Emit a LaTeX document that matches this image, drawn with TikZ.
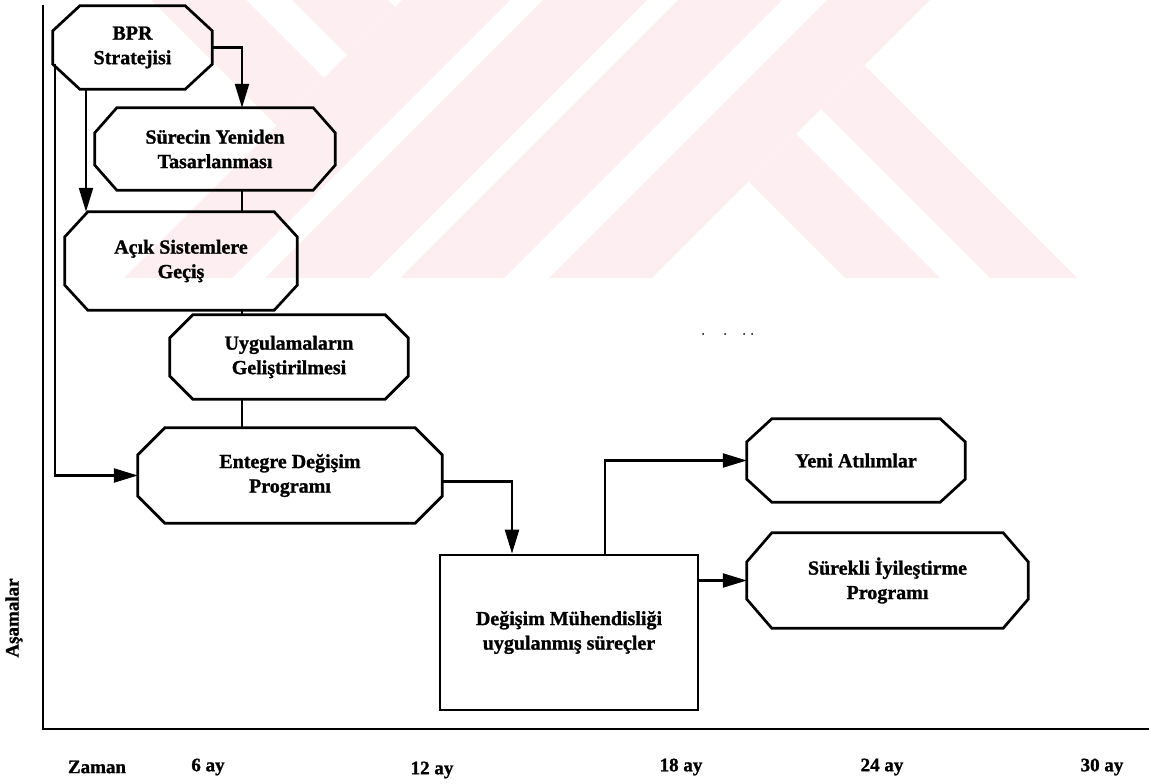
\documentclass[tikz,border=0pt]{standalone}
\usepackage{fontspec}
\setmainfont{Liberation Serif}[BoldFeatures={FakeBold=1.2}]
\usetikzlibrary{arrows.meta,calc}
\definecolor{wmpink}{RGB}{253,238,241}

\begin{document}
\begin{tikzpicture}[x=1pt,y=-1pt,
  lbl/.style={font=\bfseries\fontsize{20}{24.5}\selectfont, align=center},
  box/.style={lbl, rectangle, inner sep=0pt},
  outline/.style={line width=2.7pt, line join=miter},
  link/.style={line width=2.2pt},
  arrow/.style={link, -{Triangle[length=24pt,width=14pt]}},
  axisline/.style={line width=2.2pt},
  axislabel/.style={font=\bfseries\fontsize{19}{22}\selectfont}
]
\useasboundingbox (0,0) rectangle (1149,784);

% faint background emblem: slanted bands with forked ends
\begin{scope}
  \clip (0,0) rectangle (1149,278);
  % forked arms on the left band
  \fill[wmpink] (151,0) -- (246,0) -- (324,78) -- (276.5,125.5) -- cycle;
  \fill[wmpink] (292,0) -- (388,0) -- (395,7) -- (347,55) -- cycle;
  % parallel bands
  \fill[wmpink] (402,0) -- (510,0) -- (232,278) -- (124,278) -- cycle;
  \fill[wmpink] (543,0) -- (647,0) -- (369,278) -- (265,278) -- cycle;
  \fill[wmpink] (678,0) -- (782,0) -- (504,278) -- (400,278) -- cycle;
  \fill[wmpink] (827,0) -- (930,0) -- (652,278) -- (549,278) -- cycle;
  % forked arms on the right band
  \fill[wmpink] (748.5,181.5) -- (796,134) -- (940,278) -- (845,278) -- cycle;
  \fill[wmpink] (821,109) -- (864.5,65.5) -- (1077,278) -- (990,278) -- cycle;
\end{scope}

% stage boxes
\node[box, minimum width=159pt, minimum height=83pt] (bpr)  at (132.5,47.5) {BPR\\Stratejisi};
\node[box, minimum width=240pt, minimum height=82pt] (sur)  at (215,149)    {Sürecin Yeniden\\Tasarlanması};
\node[box, minimum width=232pt, minimum height=98pt] (acik) at (181,261)    {Açık Sistemlere\\Geçiş};
\node[box, minimum width=238pt, minimum height=84pt] (uyg)  at (289,357)    {Uygulamaların\\Geliştirilmesi};
\node[box, minimum width=304pt, minimum height=95pt] (ent)  at (290,475.5)  {Entegre Değişim\\Programı};
\node[box, minimum width=218pt, minimum height=83pt] (yeni) at (856,460.5)  {Yeni Atılımlar};
\node[box, minimum width=281pt, minimum height=95pt] (sure) at (887.5,580.5) {Sürekli İyileştirme\\Programı};
\node[box, draw, line width=2.7pt, minimum width=258pt, minimum height=155pt] (deg) at (569,632.5)
  {Değişim Mühendisliği\\uygulanmış süreçler};

% octagon outlines around the stage boxes
\foreach \n/\a/\b in {bpr/27/25, sur/22/25, acik/23/25, uyg/23/23, ent/27/27, yeni/25/23, sure/25/29}{
  \draw[outline]
    ($(\n.north west)+(\a,0)$) -- ($(\n.north east)+(-\a,0)$) --
    ($(\n.north east)+(0,\b)$) -- ($(\n.south east)+(0,-\b)$) --
    ($(\n.south east)+(-\a,0)$) -- ($(\n.south west)+(\a,0)$) --
    ($(\n.south west)+(0,-\b)$) -- ($(\n.north west)+(0,\b)$) -- cycle;
}

% guide columns for the connectors
\coordinate (spine) at (242,0);
\coordinate (drop)  at (86,0);

% connectors
\draw[arrow] (bpr.east) -| (sur.north -| spine);
\draw[arrow] (bpr.south -| drop) -- (acik.north -| drop);
\draw[arrow] ($(bpr.south west)+(2,-25)$) |- (ent.west);
\draw[link] (sur.south -| spine) -- (acik.north -| spine);
\draw[link] (acik.south -| spine) -- (uyg.north -| spine);
\draw[link] (uyg.south -| spine) -- (ent.north -| spine);
\draw[arrow] ($(ent.east)+(0,6)$) -| ($(deg.north)+(-57,0)$);
\draw[arrow] ($(deg.north)+(36,0)$) |- (yeni.west);
\draw[arrow] (deg.east |- sure.west) -- (sure.west);

% axes
\coordinate (ytop)   at (43,5);
\coordinate (origin) at (43,729);
\coordinate (xend)   at (1149,729);
\draw[axisline] (ytop) -- (origin) -- (xend);

\node[axislabel, rotate=90] (ylab) at (14,618) {Aşamalar};
\node[axislabel] (t0)  at (97,767)   {Zaman};
\node[axislabel] (t6)  at (208,767)  {6 ay};
\node[axislabel] (t12) at (432,770)  {12 ay};
\node[axislabel] (t18) at (681,767)  {18 ay};
\node[axislabel] (t24) at (882,767)  {24 ay};
\node[axislabel] (t30) at (1102,767) {30 ay};

% specks
\foreach \x in {703,725,744,752} \fill (\x,334) circle (1pt);
\end{tikzpicture}
\end{document}
